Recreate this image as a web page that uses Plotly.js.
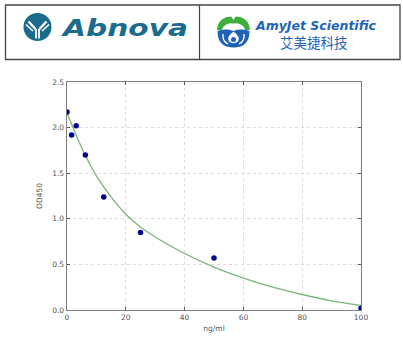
<!DOCTYPE html>
<html>
<head>
<meta charset="utf-8">
<script src="https://cdn.plot.ly/plotly-3.0.1.min.js"></script>
<style>html,body{margin:0;padding:0;background:#fff;}#chart{width:403px;height:339px;}</style>
</head>
<body>
<div id="chart"></div>
<script>
// ---- data ----
const standardConc = [0, 1.5625, 3.125, 6.25, 12.5, 25, 50, 100];
const standardOD   = [2.17, 1.92, 2.02, 1.70, 1.24, 0.85, 0.57, 0.02];
const fitConc = [0, 5, 10, 15, 20, 25, 30, 40, 50, 60, 70, 80, 90, 100];
const fitOD   = [2.16, 1.78, 1.47, 1.24, 1.05, 0.91, 0.80, 0.62, 0.47, 0.35, 0.25, 0.17, 0.10, 0.05];
const xTicks = [0, 20, 40, 60, 80, 100];
const yTicks = [0.0, 0.5, 1.0, 1.5, 2.0, 2.5];
const xLabel = 'ng/ml';
const yLabel = 'OD450';
const brandLeft = 'Abnova';
const brandRight = 'AmyJet Scientific';
const brandRightCN = '艾美捷科技';

// ---- geometry helpers (pixel -> paper) ----
const L = 67, R = 361, T = 82, B = 310;
const px = x => (x - L) / (R - L);
const py = y => (B - y) / (B - T);
const P = (x, y) => px(x).toFixed(4) + ',' + py(y).toFixed(4);

const teal = '#1b6b8d', green = '#3fae3a', blue = '#1f63b8';

const shapes = [
  // header box
  {type:'rect', xref:'paper', yref:'paper', x0:px(5.5), x1:px(400), y0:py(59.5), y1:py(5), line:{color:'#444', width:1.3}, fillcolor:'rgba(0,0,0,0)'},
  {type:'line', xref:'paper', yref:'paper', x0:px(199.5), x1:px(199.5), y0:py(59.5), y1:py(5), line:{color:'#444', width:1.2}},
  // Abnova icon
  {type:'circle', xref:'paper', yref:'paper', x0:px(23.5), x1:px(51.5), y0:py(41), y1:py(13), fillcolor:teal, line:{width:0}},
  {type:'path', xref:'paper', yref:'paper', path:'M'+P(35.5,29)+'L'+P(28.5,21.5), line:{color:'#fff', width:2.4}},
  {type:'path', xref:'paper', yref:'paper', path:'M'+P(39.5,29)+'L'+P(46.5,21.5), line:{color:'#fff', width:2.4}},
  {type:'path', xref:'paper', yref:'paper', path:'M'+P(33,31)+'L'+P(26,24.5), line:{color:'#fff', width:1.6}},
  {type:'path', xref:'paper', yref:'paper', path:'M'+P(42,31)+'L'+P(49,24.5), line:{color:'#fff', width:1.6}},
  {type:'path', xref:'paper', yref:'paper', path:'M'+P(36,29)+'L'+P(36,38.5), line:{color:'#fff', width:1.8}},
  {type:'path', xref:'paper', yref:'paper', path:'M'+P(39,29)+'L'+P(39,38.5), line:{color:'#fff', width:1.8}},
  // AmyJet icon: green arch
  {type:'path', xref:'paper', yref:'paper', fillcolor:green, line:{width:0},
   path:'M'+P(217,30)+'Q'+P(218,16)+' '+P(233.5,16.5)+'Q'+P(249,16)+' '+P(250,30)+'L'+P(245.5,30)+'Q'+P(242,22)+' '+P(233.5,23.5)+'Q'+P(225,22)+' '+P(221.5,30)+'Z'},
  {type:'path', xref:'paper', yref:'paper', fillcolor:'#fff', line:{width:0},
   path:'M'+P(231,16)+'L'+P(236,16)+'L'+P(233.5,20)+'Z'},
  // AmyJet icon: blue bowl
  {type:'path', xref:'paper', yref:'paper', fillcolor:blue, line:{width:0},
   path:'M'+P(217.5,31)+'Q'+P(217.5,47.5)+' '+P(233.5,47.5)+'Q'+P(249.5,47.5)+' '+P(249.5,31)+'Q'+P(241,28)+' '+P(233.5,31)+'Q'+P(226,28)+' '+P(217.5,31)+'Z'},
  {type:'path', xref:'paper', yref:'paper', fillcolor:'#fff', line:{width:0},
   path:'M'+P(233.5,31.5)+'Q'+P(241,37)+' '+P(238,41.5)+'Q'+P(233.5,45)+' '+P(229,41.5)+'Q'+P(226,37)+' '+P(233.5,31.5)+'Z'},
  {type:'circle', xref:'paper', yref:'paper', x0:px(231), x1:px(236), y0:py(42), y1:py(37), fillcolor:blue, line:{width:0}},
  {type:'path', xref:'paper', yref:'paper', path:'M'+P(223,34)+'Q'+P(222,41)+' '+P(228,44), line:{color:'#fff', width:1.4}},
  {type:'path', xref:'paper', yref:'paper', path:'M'+P(244,34)+'Q'+P(245,41)+' '+P(239,44), line:{color:'#fff', width:1.4}}
];

const annotations = [
  {xref:'paper', yref:'paper', x:px(124.5), y:py(27.5), xanchor:'center', yanchor:'middle', showarrow:false,
   text:brandLeft, font:{family:'DejaVu Sans', size:23, color:teal, weight:'bold', style:'italic'}},
  {xref:'paper', yref:'paper', x:px(252.5), y:py(25.5), xanchor:'left', yanchor:'middle', showarrow:false,
   text:brandRight, font:{family:'DejaVu Sans', size:12.5, color:blue, weight:'bold', style:'italic'}},
  {xref:'paper', yref:'paper', x:px(314), y:py(42.5), xanchor:'center', yanchor:'middle', showarrow:false,
   text:brandRightCN, font:{family:'Noto Sans CJK SC', size:13.5, color:blue}}
];

const traces = [
  {x:fitConc, y:fitOD, type:'scatter', mode:'lines', line:{color:'#7ab57a', width:1.3, shape:'spline'}, hoverinfo:'skip'},
  {x:standardConc, y:standardOD, type:'scatter', mode:'markers', marker:{color:'#00008b', size:5.5}, cliponaxis:true}
];

const axisCommon = {
  showline:true, mirror:'ticks', linecolor:'#808080', linewidth:1.4,
  ticks:'inside', ticklen:3, tickcolor:'#555', tickwidth:1,
  showgrid:true, gridcolor:'#dcdcdc', griddash:'dot', gridwidth:1,
  zeroline:false, tickfont:{family:'DejaVu Sans', size:7.5, color:'#555'}
};

const layout = {
  width:403, height:339,
  margin:{l:L, r:403-R, t:T, b:339-B, pad:0},
  paper_bgcolor:'#fff', plot_bgcolor:'#fff',
  showlegend:false,
  xaxis:Object.assign({}, axisCommon, {range:[0,100], tickvals:xTicks, ticktext:xTicks.map(String),
    title:{text:xLabel, font:{family:'DejaVu Sans', size:7.5, color:'#555'}, standoff:4}}),
  yaxis:Object.assign({}, axisCommon, {range:[0,2.5], tickvals:yTicks, ticktext:yTicks.map(v=>v.toFixed(1)),
    title:{text:yLabel, font:{family:'DejaVu Sans', size:7.5, color:'#555'}, standoff:8}}),
  shapes:shapes, annotations:annotations
};

Plotly.newPlot('chart', traces, layout, {staticPlot:true, displayModeBar:false}).then(() => {
  // stretch the wide Abnova wordmark to its logo width
  const texts = document.querySelectorAll('.annotation-text');
  texts.forEach(t => {
    if (t.textContent === brandLeft) { t.setAttribute('textLength', '125'); t.setAttribute('lengthAdjust', 'spacingAndGlyphs'); }
  });
});
</script>
</body>
</html>
